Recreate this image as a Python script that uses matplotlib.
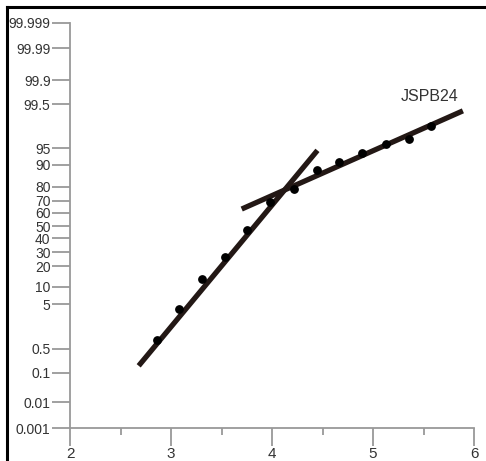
import numpy as np
import matplotlib
matplotlib.use('Agg')
import matplotlib.pyplot as plt
from matplotlib.lines import Line2D
from matplotlib.ticker import FixedLocator, MultipleLocator

# probability paper: tick values (%) and where they sit on the printed scale
prob_ticks = [0.001, 0.01, 0.1, 0.5, 5, 10, 20, 30, 40, 50, 60, 70, 80, 90, 95, 99.5, 99.9, 99.99, 99.999]
prob_labels = ['0.001', '0.01', '0.1', '0.5', '5', '10', '20', '30', '40', '50', '60', '70', '80', '90', '95', '99.5', '99.9', '99.99', '99.999']
prob_pos = [0, 26, 55, 79, 124, 141, 162, 176, 190, 202, 215, 227, 241, 263, 280, 324, 348, 380, 405]

# measured points
x_pts = [2.86, 3.08, 3.31, 3.53, 3.75, 3.98, 4.22, 4.45, 4.66, 4.89, 5.13, 5.36, 5.57]
p_pts = [1.45, 4.5, 14.0, 26.4, 46.7, 68.8, 78.6, 87.5, 91.0, 93.5, 95.4, 95.9, 97.3]

# fitted lines (end points)
fit1_x = [2.68, 4.45]
fit1_p = [0.22, 94.3]
fit2_x = [3.70, 5.89]
fit2_p = [63.3, 98.8]

label = 'JSPB24'


def fwd(p):
    return np.interp(p, prob_ticks, prob_pos)


def inv(z):
    return np.interp(z, prob_pos, prob_ticks)


plt.rcParams['font.family'] = ['Liberation Sans', 'DejaVu Sans']

fig = plt.figure(figsize=(4.86, 4.61), dpi=100)
ax = fig.add_axes([70 / 486, 33 / 461, 404 / 486, 405 / 461])
ax.set_yscale('function', functions=(fwd, inv))
ax.set_xlim(2, 6)
ax.set_ylim(0.001, 99.999)

line_col = '#231815'
ax.plot(fit1_x, fit1_p, color=line_col, lw=3.8, solid_capstyle='butt', zorder=2)
ax.plot(fit2_x, fit2_p, color=line_col, lw=3.8, solid_capstyle='butt', zorder=2)
ax.scatter(x_pts, p_pts, s=28, color='black', zorder=3)

ax.text(5.56, 99.63, label, fontsize=11.5, color='#333333', ha='center', va='center')

axis_col = '#999999'
for side in ['top', 'right']:
    ax.spines[side].set_visible(False)
for side in ['left', 'bottom']:
    ax.spines[side].set_color(axis_col)
    ax.spines[side].set_linewidth(1.3)

ax.yaxis.set_major_locator(FixedLocator(prob_ticks))
ax.set_yticklabels(prob_labels)
ax.yaxis.set_minor_locator(FixedLocator([]))
ax.tick_params(axis='y', length=13, width=1.3, color=axis_col, labelsize=10,
               labelcolor='#333333', pad=1)

ax.xaxis.set_major_locator(MultipleLocator(1))
ax.xaxis.set_minor_locator(MultipleLocator(0.5))
ax.tick_params(axis='x', which='major', length=13, width=1.3, color=axis_col,
               labelsize=11, labelcolor='#333333', pad=1)
ax.tick_params(axis='x', which='minor', length=5, width=1.3, color=axis_col)

# page frame (left and top edges)
fig.add_artist(Line2D([7 / 486, 7 / 486], [0, 1 - 7 / 461], transform=fig.transFigure,
                      color='black', lw=2.2))
fig.add_artist(Line2D([7 / 486, 1], [1 - 7 / 461, 1 - 7 / 461], transform=fig.transFigure,
                      color='black', lw=2.2))

fig.savefig('out.png', dpi=100)
